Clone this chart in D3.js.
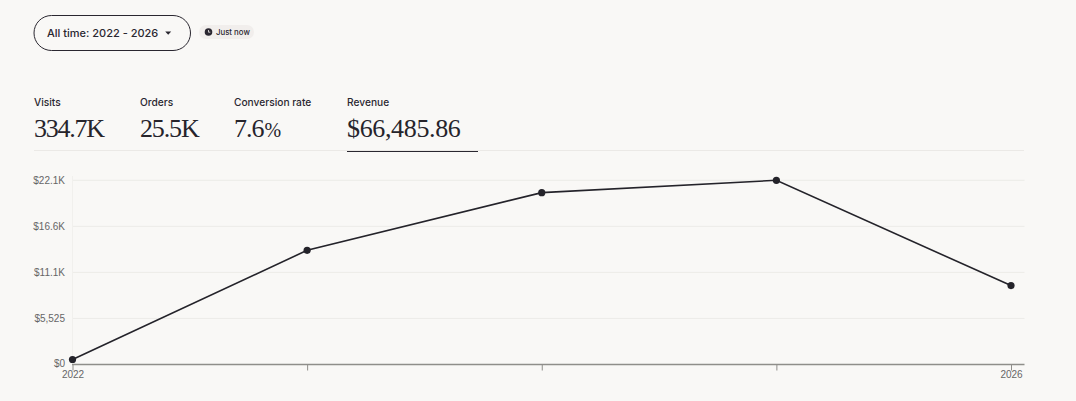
<!DOCTYPE html>
<html><head><meta charset="utf-8">
<script src="https://cdn.jsdelivr.net/npm/d3@7/dist/d3.min.js"></script>
<style>
html,body{margin:0;padding:0;background:#f9f8f6;overflow:hidden}
svg{display:block}
.sans{font-family:Inter,"Liberation Sans",sans-serif;fill:#2a2730}
.serif{font-family:"Liberation Serif",serif;fill:#26242b}
.tick-label{font-family:"Liberation Sans",Arial,sans-serif;font-size:10px;fill:#666}
</style></head><body>
<svg id="c" width="1076" height="401"></svg>
<script>
const years = ["2022", "2023", "2024", "2025", "2026"];
const revenue = [600, 13700, 20620, 22100, 9466];
const yTickValues = [0, 5525, 11050, 16575, 22100];
const yTickLabels = ["$0", "$5,525", "$11.1K", "$16.6K", "$22.1K"];
const xTickLabels = ["2022", "", "", "", "2026"];
const statLabels = ["Visits", "Orders", "Conversion rate", "Revenue"];
const statValues = ["334.7K", "25.5K", "7.6", "$66,485.86"];
const statSuffixes = ["", "", "%", ""];
const statLefts = [34, 140, 234, 347];
const statSpacing = [-1.25, -1.15, -1.0, -0.35];
const rangeLabel = "All time: 2022 - 2026";
const freshness = "Just now";

const svg = d3.select("#c");
const x = d3.scalePoint().domain(years).range([72.5, 1011]);
const y = d3.scaleLinear().domain([0, 22100]).range([364.5, 180.3]);

// header controls
svg.append("rect").attr("x",34).attr("y",15.5).attr("width",156.5).attr("height",35).attr("rx",17.5)
  .attr("fill","none").attr("stroke","#2a2730").attr("stroke-width",1);
svg.append("text").attr("class","sans").attr("x",47).attr("y",37).attr("font-size",11).attr("font-weight",500).text(rangeLabel);
svg.append("path").attr("d","M165.2 31.5h6l-3 3.2z").attr("fill","#2a2730");
svg.append("rect").attr("x",199).attr("y",25).attr("width",55).attr("height",14).attr("rx",7).attr("fill","#f1eeec");
svg.append("circle").attr("cx",208.5).attr("cy",32).attr("r",3.8).attr("fill","#2a2730");
svg.append("path").attr("d","M208.5 30v2.2h1.8").attr("fill","none").attr("stroke","#f1eeec").attr("stroke-width",.8);
svg.append("text").attr("class","sans").attr("x",216).attr("y",35).attr("font-size",7.8).attr("font-weight",500).text(freshness);

// stats
svg.selectAll(".sl").data(statLabels).join("text").attr("class","sans sl")
  .attr("x",(d,i)=>statLefts[i]).attr("y",106).attr("font-size",10.2).attr("font-weight",500).text(d=>d);
const sv = svg.selectAll(".sv").data(statValues).join("text").attr("class","serif sv")
  .attr("x",(d,i)=>statLefts[i]).attr("y",136.5).attr("font-size",26)
  .attr("letter-spacing",(d,i)=>statSpacing[i]).text(d=>d);
sv.append("tspan").attr("font-size",20).attr("dx",1).attr("letter-spacing",0).text((d,i)=>statSuffixes[i]);
svg.append("line").attr("x1",34).attr("x2",1024).attr("y1",150.5).attr("y2",150.5).attr("stroke","#ebe9e6");
svg.append("line").attr("x1",347).attr("x2",478).attr("y1",151.5).attr("y2",151.5).attr("stroke","#2a2730").attr("stroke-width",1);

// grid
svg.selectAll(".grid").data(yTickValues.slice(1)).join("line").attr("class","grid")
  .attr("x1",72).attr("x2",1024.5).attr("y1",d=>y(d)).attr("y2",d=>y(d))
  .attr("stroke","#ecebe8").attr("stroke-width",1);
svg.append("line").attr("x1",72.5).attr("x2",72.5).attr("y1",176).attr("y2",364).attr("stroke","#f1f0ed");

// y axis
const gy = svg.append("g").attr("transform","translate(72,0)")
  .call(d3.axisLeft(y).tickValues(yTickValues).tickSize(0).tickPadding(7).tickFormat((d,i)=>yTickLabels[i]));
gy.select(".domain").remove();
gy.selectAll("text").attr("class","tick-label").attr("font-family",null).attr("font-size",null).attr("dy","0.32em");
gy.selectAll(".tick").filter(d=>d===0).select("text").attr("dy","0.2em");

// x axis
const gx = svg.append("g").attr("transform","translate(0,364.5)")
  .call(d3.axisBottom(x).tickSize(6).tickPadding(0).tickFormat((d,i)=>xTickLabels[i]));
gx.select(".domain").attr("d","M72,0H1024.5").attr("stroke","#8f8e8a").attr("stroke-width",1.3);
gx.selectAll("line").attr("stroke","#8f8e8a");
gx.selectAll("text").attr("class","tick-label").attr("font-family",null).attr("font-size",null).attr("y",6.5);

// line
const pts = years.map((d,i)=>({d,v:revenue[i]}));
svg.append("path").datum(pts).attr("fill","none").attr("stroke","#24232a").attr("stroke-width",1.6)
  .attr("d",d3.line().x(p=>x(p.d)).y(p=>y(p.v)));
svg.selectAll(".pt").data(pts).join("circle").attr("class","pt")
  .attr("cx",p=>x(p.d)).attr("cy",p=>y(p.v)).attr("r",3.6).attr("fill","#24232a");
</script></body></html>
